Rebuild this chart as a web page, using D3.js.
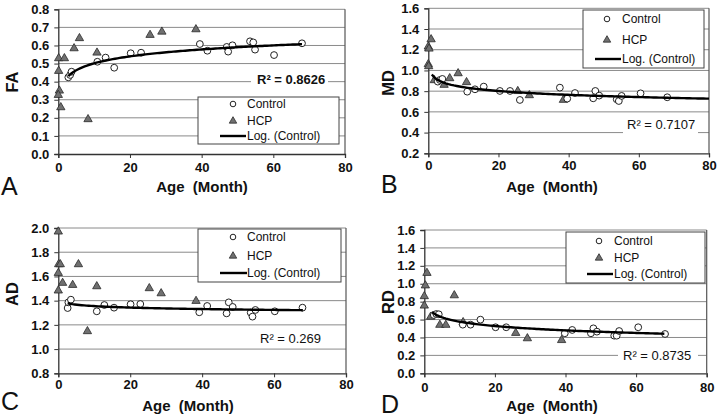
<!DOCTYPE html>
<html><head><meta charset="utf-8">
<script src="https://cdn.jsdelivr.net/npm/d3@7"></script>
<style>
html,body{margin:0;padding:0;background:#fff;}
svg{display:block;font-family:"Liberation Sans",Arial,sans-serif;}
</style></head>
<body><svg id="chart" width="720" height="419"></svg>
<script>
// ---------- DATA ----------
const xTicks = [0, 20, 40, 60, 80];
const faTicks = [0.0, 0.1, 0.2, 0.3, 0.4, 0.5, 0.6, 0.7, 0.8];
const mdTicks = [0.2, 0.4, 0.6, 0.8, 1.0, 1.2, 1.4, 1.6];
const adTicks = [0.8, 1.0, 1.2, 1.4, 1.6, 1.8, 2.0];
const rdTicks = [0.0, 0.2, 0.4, 0.6, 0.8, 1.0, 1.2, 1.4, 1.6];

const faCtrlAge = [2.8, 3.3, 3.7, 10.9, 13.2, 15.6, 20.2, 23.1, 39.5, 41.6, 47.0, 47.4, 48.6, 53.5, 54.4, 54.9, 60.2, 68.0];
const faCtrl    = [0.424, 0.437, 0.455, 0.51, 0.533, 0.477, 0.557, 0.56, 0.608, 0.571, 0.592, 0.566, 0.601, 0.623, 0.617, 0.577, 0.547, 0.612];
const faHcpAge  = [0.1, 0.1, 0.3, 0.0, 0.7, 1.7, 4.4, 5.9, 8.3, 10.8, 25.6, 28.9, 38.4];
const faHcp     = [0.529, 0.459, 0.35, 0.326, 0.258, 0.529, 0.584, 0.64, 0.192, 0.56, 0.658, 0.676, 0.689];

const mdCtrlAge = [2.7, 3.3, 4.0, 11.1, 13.3, 15.8, 20.4, 23.3, 26.1, 37.5, 39.6, 41.8, 47.0, 47.6, 48.7, 53.7, 54.3, 55.1, 60.5, 68.1];
const mdCtrl    = [0.892, 0.908, 0.918, 0.795, 0.818, 0.844, 0.802, 0.802, 0.715, 0.834, 0.728, 0.782, 0.731, 0.802, 0.757, 0.721, 0.705, 0.754, 0.779, 0.741];
const mdHcpAge  = [0.0, 0.1, 0.0, 0.2, 0.8, 1.7, 4.5, 6.1, 8.5, 10.9, 25.5, 28.8, 38.5];
const mdHcp     = [1.06, 1.04, 1.23, 1.21, 1.30, 0.905, 0.86, 0.924, 0.972, 0.886, 0.80, 0.76, 0.715];

const adCtrlAge = [2.6, 2.8, 3.5, 10.7, 12.8, 15.5, 20.1, 22.8, 39.2, 41.4, 46.8, 47.4, 48.5, 53.5, 54.0, 54.8, 60.2, 67.9];
const adCtrl    = [1.339, 1.386, 1.408, 1.312, 1.364, 1.342, 1.370, 1.372, 1.304, 1.356, 1.295, 1.386, 1.348, 1.301, 1.268, 1.323, 1.312, 1.342];
const adHcpAge  = [0.0, 0.1, 0.55, 0.0, 0.0, 1.2, 4.0, 5.6, 8.1, 10.7, 25.3, 28.6, 38.3];
const adHcp     = [1.97, 1.70, 1.70, 1.628, 1.483, 1.546, 1.529, 1.70, 1.147, 1.518, 1.502, 1.46, 1.397];

const rdCtrlAge = [2.7, 3.4, 4.1, 10.9, 13.1, 15.9, 20.2, 23.2, 39.8, 41.9, 47.2, 47.9, 48.9, 53.8, 54.5, 55.2, 60.6, 68.2];
const rdCtrl    = [0.651, 0.662, 0.659, 0.543, 0.543, 0.599, 0.514, 0.514, 0.447, 0.484, 0.447, 0.502, 0.465, 0.420, 0.420, 0.472, 0.514, 0.439];
const rdHcpAge  = [0.0, 0.0, 0.3, 0.75, 1.8, 4.4, 6.1, 8.5, 11.0, 25.9, 29.2, 38.9];
const rdHcp     = [0.755, 0.86, 0.98, 1.12, 0.63, 0.54, 0.54, 0.87, 0.57, 0.45, 0.39, 0.37];

const measureNames = ["FA", "MD", "AD", "RD"];
const panelLetters = ["A", "B", "C", "D"];
const r2Labels = ["R\u00B2 = 0.8626", "R\u00B2 = 0.7107", "R\u00B2 = 0.269", "R\u00B2 = 0.8735"];
const legendLabels = ["Control", "HCP", "Log. (Control)"];
const xTitle = "Age  (Month)";

// ---------- LAYOUT ----------
const panels = [
  {ctrlX: faCtrlAge, ctrlY: faCtrl, hcpX: faHcpAge, hcpY: faHcp, ticks: faTicks, fmt: ".1f",
   L: 58.3, R: 345, T: 9.3, B: 154, ylab: [12, 82], letter: [1, 195], title: [202, 192], xtBase: 171.5,
   leg: {x: 198, y: 97, w: 141, h: 47, rows: [104, 121, 136], mx: 233, tx: 247, l0: 220, l1: 246},
   r2: {x: 257, y: 84, bold: true, bg: [251, 75, 77, 13]}, trend: [2.8, 68]},
  {ctrlX: mdCtrlAge, ctrlY: mdCtrl, hcpX: mdHcpAge, hcpY: mdHcp, ticks: mdTicks, fmt: ".1f",
   L: 428.3, R: 709, T: 8.3, B: 153.3, ylab: [388, 83], letter: [381, 193], title: [552, 192], xtBase: 170.5,
   leg: {x: 583, y: 10, w: 121, h: 58, rows: [19, 40, 59], mx: 607, tx: 622, l0: 595, l1: 621},
   r2: {x: 627, y: 129, bold: false, bg: [623, 116, 75, 19]}, trend: [1.0, 80]},
  {ctrlX: adCtrlAge, ctrlY: adCtrl, hcpX: adHcpAge, hcpY: adHcp, ticks: adTicks, fmt: ".1f",
   L: 58.3, R: 346, T: 228, B: 373.3, ylab: [12, 294], letter: [1, 410], title: [188, 410.5], xtBase: 389,
   leg: {x: 198, y: 229, w: 143, h: 53, rows: [237, 256, 273], mx: 233, tx: 247, l0: 220, l1: 247},
   r2: {x: 260, y: 342.5, bold: false, bg: [256, 330, 66, 15]}, trend: [2.6, 68]},
  {ctrlX: rdCtrlAge, ctrlY: rdCtrl, hcpX: rdHcpAge, hcpY: rdHcp, ticks: rdTicks, fmt: ".1f",
   L: 424.3, R: 706.7, T: 230, B: 373.3, ylab: [388, 302], letter: [381, 413], title: [552, 411], xtBase: 392,
   leg: {x: 566, y: 232, w: 139, h: 51, rows: [241, 258, 274], mx: 599, tx: 614, l0: 587, l1: 613},
   r2: {x: 623, y: 359.5, bold: false, bg: [618, 348, 80, 14]}, trend: [2.2, 68]}
];

const svg = d3.select("#chart");
const gridColor = "#8a8a8a";
const axisColor = "#333";
const triFill = "#707070";
const triStroke = "#2a2a2a";
const tri = d3.symbol().type(d3.symbolTriangle);

panels.forEach((p, i) => {
  const g = svg.append("g");
  const yDom = d3.extent(p.ticks);
  const x = d3.scaleLinear().domain([0, 80]).range([p.L, p.R]);
  const y = d3.scaleLinear().domain(yDom).range([p.B, p.T]);

  // gridlines
  g.append("g").selectAll("line").data(p.ticks.filter(t => t !== yDom[0])).join("line")
    .attr("x1", p.L).attr("x2", p.R).attr("y1", d => y(d)).attr("y2", d => y(d))
    .attr("stroke", gridColor).attr("stroke-width", 1);
  // right border
  g.append("line").attr("x1", p.R).attr("x2", p.R).attr("y1", p.T).attr("y2", p.B)
    .attr("stroke", "#555").attr("stroke-width", 1.2);

  // y axis
  const yAxis = d3.axisLeft(y).tickValues(p.ticks).tickFormat(d3.format(p.fmt)).tickSizeOuter(0).tickSize(4).tickPadding(5);
  const ya = g.append("g").attr("transform", `translate(${p.L},0)`).call(yAxis);
  ya.select(".domain").attr("stroke", axisColor).attr("stroke-width", 1.3);
  ya.selectAll(".tick line").attr("stroke", axisColor);
  ya.selectAll("text").attr("font-size", 13).attr("font-weight", "bold").attr("fill", "#111")
    .attr("font-family", '"Liberation Sans",Arial,sans-serif');

  // x axis
  const xAxis = d3.axisBottom(x).tickValues(xTicks).tickSizeOuter(0).tickSize(4).tickPadding(0);
  const xa = g.append("g").attr("transform", `translate(0,${p.B})`).call(xAxis);
  xa.select(".domain").attr("stroke", axisColor).attr("stroke-width", 1.3);
  xa.selectAll(".tick line").attr("stroke", axisColor);
  xa.selectAll("text").attr("font-size", 13).attr("font-weight", "bold").attr("fill", "#111")
    .attr("font-family", '"Liberation Sans",Arial,sans-serif')
    .attr("dy", null).attr("y", p.xtBase - p.B);

  // R2 label with white background
  g.append("rect").attr("x", p.r2.bg[0]).attr("y", p.r2.bg[1]).attr("width", p.r2.bg[2]).attr("height", p.r2.bg[3]).attr("fill", "#fff");
  g.append("text").attr("x", p.r2.x).attr("y", p.r2.y).attr("font-size", 13)
    .attr("font-weight", p.r2.bold ? "bold" : "normal").attr("fill", "#111").text(r2Labels[i]);

  // HCP triangles
  const hcp = p.hcpX.map((a, k) => [a, p.hcpY[k]]);
  g.append("g").selectAll("path").data(hcp).join("path")
    .attr("d", tri.size(30)())
    .attr("transform", d => `translate(${x(d[0])},${y(d[1])})`)
    .attr("fill", triFill).attr("stroke", triStroke).attr("stroke-width", 0.8);

  // Control circles
  const ctrl = p.ctrlX.map((a, k) => [a, p.ctrlY[k]]);
  g.append("g").selectAll("circle").data(ctrl).join("circle")
    .attr("cx", d => x(d[0])).attr("cy", d => y(d[1])).attr("r", 3.4)
    .attr("fill", "#fff").attr("stroke", "#222").attr("stroke-width", 1);

  // logarithmic trendline fitted to control data
  const lx = ctrl.map(d => Math.log(d[0]));
  const mx = d3.mean(lx), my = d3.mean(ctrl, d => d[1]);
  const slope = d3.sum(ctrl, (d, k) => (lx[k] - mx) * (d[1] - my)) / d3.sum(lx, v => (v - mx) * (v - mx));
  const icpt = my - slope * mx;
  const xs = d3.range(0, 101).map(k => p.trend[0] + (p.trend[1] - p.trend[0]) * k / 100);
  g.append("path").datum(xs)
    .attr("d", d3.line().x(v => x(v)).y(v => y(icpt + slope * Math.log(v))))
    .attr("fill", "none").attr("stroke", "#000").attr("stroke-width", 2.4);

  // legend
  const lg = p.leg;
  g.append("rect").attr("x", lg.x).attr("y", lg.y).attr("width", lg.w).attr("height", lg.h)
    .attr("fill", "#fff").attr("stroke", "#444").attr("stroke-width", 1);
  g.append("circle").attr("cx", lg.mx).attr("cy", lg.rows[0]).attr("r", 2.8)
    .attr("fill", "#fff").attr("stroke", "#222").attr("stroke-width", 1);
  g.append("path").attr("d", tri.size(24)()).attr("transform", `translate(${lg.mx},${lg.rows[1]})`)
    .attr("fill", triFill).attr("stroke", triStroke).attr("stroke-width", 0.8);
  g.append("line").attr("x1", lg.l0).attr("x2", lg.l1).attr("y1", lg.rows[2]).attr("y2", lg.rows[2])
    .attr("stroke", "#000").attr("stroke-width", 2.4);
  legendLabels.forEach((t, k) => {
    g.append("text").attr("x", lg.tx).attr("y", lg.rows[k]).attr("dy", "0.36em")
      .attr("font-size", 12).attr("fill", "#111").text(t);
  });

  // y title
  g.append("text").attr("transform", `translate(${p.ylab[0]},${p.ylab[1]}) rotate(-90)`)
    .attr("text-anchor", "middle").attr("dy", "0.36em")
    .attr("font-size", 16.5).attr("font-weight", "bold").attr("fill", "#111").text(measureNames[i]);
  // x title
  g.append("text").attr("x", p.title[0]).attr("y", p.title[1]).attr("text-anchor", "middle")
    .style("white-space", "pre").attr("font-size", 15).attr("font-weight", "bold").attr("fill", "#111").text(xTitle);
  // panel letter
  g.append("text").attr("x", p.letter[0]).attr("y", p.letter[1])
    .attr("font-size", 25).attr("fill", "#111").text(panelLetters[i]);
});
</script>
</body></html>
